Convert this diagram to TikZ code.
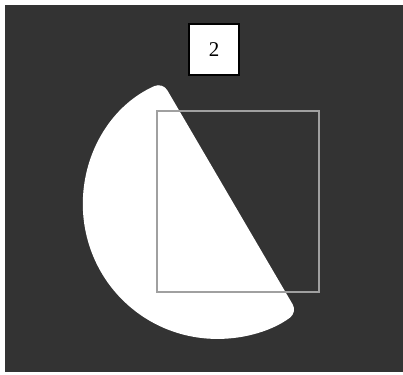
\documentclass[tikz,border=0pt]{standalone}
\usepackage{fontspec}
\setmainfont{Liberation Serif}
\definecolor{darkbg}{HTML}{333333}
\definecolor{framegray}{HTML}{A0A0A0}

\begin{document}
\begin{tikzpicture}[x=1pt, y=1pt,
	numbox/.style={rectangle, draw=black, fill=white, line width=1.5pt, minimum width=50pt, minimum height=51pt, inner sep=0pt, font=\fontsize{21}{24}\selectfont},
	frame/.style={draw=framegray, line width=2pt},
	piece/.style={fill=white, rounded corners=9pt}]
	\useasboundingbox (0,0) rectangle (403,-374);
	\fill[darkbg] (5,-5) rectangle (403,-372);
	% cut disc
	\coordinate (T) at (162.7,-82.4);
	\coordinate (B) at (297.3,-312.4);
	\coordinate (M) at (230,-197.4);
	\fill[piece] (M) -- (T) arc[start angle=113.9, end angle=306.8, radius=134] -- cycle;
	% window
	\draw[frame] (157,-111) rectangle (319,-292);
	\node[numbox] (num) at (214,-49.5) {2};
\end{tikzpicture}
\end{document}
